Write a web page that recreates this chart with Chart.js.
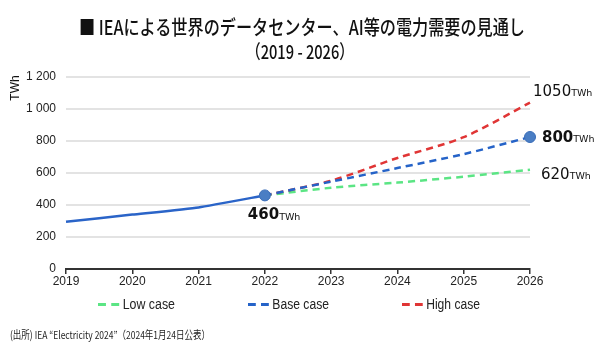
<!DOCTYPE html>
<html>
<head>
<meta charset="utf-8">
<script src="https://cdn.jsdelivr.net/npm/chart.js@4"></script>
<style>
  html, body { margin: 0; padding: 0; background: #fff; }
  #wrap { position: relative; width: 600px; height: 345px; overflow: hidden; font-family: "Noto Sans CJK JP", sans-serif; }
  #chartBox { position: absolute; left: 0; top: 0; width: 600px; height: 345px; }
  .fit { position: absolute; white-space: nowrap; transform-origin: 0 0; color: #111; line-height: 1; }
  #title1 { top: 17px; font-size: 20px; font-weight: 500; }
  #title2 { top: 41px; font-size: 19px; font-weight: 500; }
  #source { top: 329px; font-size: 11px; color: #222; }
  .leg { position: absolute; top: 297px; font-family: "Liberation Sans", Arial, sans-serif; font-size: 14px; color: #222; display: flex; align-items: center; }
  .dash { display: inline-block; flex: 0 0 auto; width: 9px; height: 3px; }
  .gap { display: inline-block; flex: 0 0 auto; width: 6px; height: 3px; }
  .gap2 { display: inline-block; flex: 0 0 auto; width: 4px; height: 3px; }
</style>
</head>
<body>
<div id="wrap">
  <div id="chartBox"><canvas id="chart"></canvas></div>
  <div class="fit" id="title1" data-left="79" data-width="446">■ IEAによる世界のデータセンター、AI等の電力需要の見通し</div>
  <div class="fit" id="title2" data-left="246" data-width="108">（2019 - 2026）</div>
  <div class="leg fit" data-left="98" data-width="77"><span class="dash" style="background:#5be584"></span><span class="gap"></span><span class="dash" style="background:#5be584"></span><span class="gap2"></span>Low case</div>
  <div class="leg fit" data-left="248" data-width="81"><span class="dash" style="background:#2563c8"></span><span class="gap"></span><span class="dash" style="background:#2563c8"></span><span class="gap2"></span>Base case</div>
  <div class="leg fit" data-left="402" data-width="78"><span class="dash" style="background:#e03535"></span><span class="gap"></span><span class="dash" style="background:#e03535"></span><span class="gap2"></span>High case</div>
  <div class="fit" id="source" data-left="10" data-width="200">(出所) IEA “Electricity 2024”（2024年1月24日公表）</div>
</div>
<script>
const years = ["2019", "2020", "2021", "2022", "2023", "2024", "2025", "2026"];
const actual = [295, 340, 385, 460, null, null, null, null];
const lowCase = [null, null, null, 460, 508, 540, 577, 620];
const baseCase = [null, null, null, 460, 546, 631, 718, 825];
const highCase = [null, null, null, 460, 552, 694, 824, 1040];
const yTicks = [0, 200, 400, 600, 800, 1000, 1200];

// end labels: [year, value, main text, bold]
const endLabels = [
  ["2022", 460, "460", true],
  ["2026", 825, "800", true],
  ["2026", 1050, "1050", false],
  ["2026", 620, "620", false],
];

// squeeze the condensed-looking texts to the reference widths
document.querySelectorAll(".fit").forEach(function (el) {
  const w = el.getBoundingClientRect().width;
  const target = Number(el.dataset.width);
  el.style.left = el.dataset.left + "px";
  el.style.transform = "scaleX(" + (target / w) + ")";
});

const labelPlugin = {
  id: "labels",
  afterDraw(chart) {
    const ctx = chart.ctx;
    const x = chart.scales.x;
    const y = chart.scales.y;
    ctx.save();
    ctx.fillStyle = "#111";
    ctx.textBaseline = "middle";

    // axis unit, top-left
    ctx.save();
    ctx.translate(16, 88);
    ctx.rotate(-Math.PI / 2);
    ctx.textAlign = "center";
    ctx.font = "12px 'Liberation Sans', Arial, sans-serif";
    ctx.fillText("TWh", 0, 0);
    ctx.restore();

    endLabels.forEach(function (l) {
      const px = x.getPixelForValue(years.indexOf(l[0]));
      const py = y.getPixelForValue(l[1]);
      let lx, ly;
      if (l[0] === "2022") { lx = px - 17; ly = py + 20; }
      else if (l[2] === "800") { lx = px + 12; ly = py + 1; }
      else if (l[2] === "1050") { lx = px + 3; ly = py - 9; }
      else { lx = px + 11; ly = py + 5; }
      ctx.textAlign = "left";
      ctx.font = (l[3] ? "bold " : "") + "15px 'DejaVu Sans', sans-serif";
      ctx.fillText(l[2], lx, ly);
      const w = ctx.measureText(l[2]).width;
      ctx.font = "9.5px 'DejaVu Sans', sans-serif";
      ctx.fillText("TWh", lx + w, ly + 2);
    });
    ctx.restore();
  },
};

const dashed = { borderWidth: 2.5, borderDash: [7, 5], pointRadius: 0, fill: false, tension: 0.3 };

new Chart(document.getElementById("chart"), {
  type: "line",
  data: {
    labels: years,
    datasets: [
      {
        label: "Actual",
        data: actual,
        borderColor: "#2a64c8",
        borderWidth: 2.5,
        tension: 0.15,
        pointRadius: [0, 0, 0, 5.5, 0, 0, 0, 0],
        pointBackgroundColor: "#4a7ec4",
        pointBorderColor: "#3a6db8",
        pointBorderWidth: 1,
      },
      Object.assign({ label: "Base case", data: baseCase, borderColor: "#2563c8",
        pointBackgroundColor: "#4a7ec4", pointBorderColor: "#3a6db8", pointBorderWidth: 1 }, dashed,
        { pointRadius: [0, 0, 0, 0, 0, 0, 0, 5.5] }),
      Object.assign({ label: "High case", data: highCase, borderColor: "#e03535" }, dashed),
      Object.assign({ label: "Low case", data: lowCase, borderColor: "#5be584" }, dashed),
    ],
  },
  options: {
    responsive: true,
    maintainAspectRatio: false,
    animation: false,
    spanGaps: false,
    layout: { padding: { top: 77, right: 70, left: 0, bottom: 0 } },
    plugins: {
      legend: { display: false },
      tooltip: { enabled: false },
    },
    scales: {
      x: {
        offset: false,
        afterFit(s) { s.height = 76; },
        border: { display: true, color: "#333", width: 2 },
        grid: { display: true, drawOnChartArea: false, drawTicks: true, tickLength: 5, color: "#333", lineWidth: 1.5 },
        ticks: { color: "#222", font: { family: "'Liberation Sans', Arial, sans-serif", size: 12 }, padding: 0, maxRotation: 0 },
      },
      y: {
        min: 0,
        max: 1200,
        afterFit(s) { s.width = 66; },
        afterBuildTicks(s) { s.ticks = yTicks.map(function (v) { return { value: v }; }); },
        border: { display: false },
        grid: { color: "#e3e3e3", lineWidth: 2, drawTicks: false },
        ticks: {
          color: "#222",
          padding: 10,
          font: { family: "'Liberation Sans', Arial, sans-serif", size: 12 },
          callback(v) { return String(v).replace(/\B(?=(\d{3})+(?!\d))/g, " "); },
        },
      },
    },
  },
  plugins: [labelPlugin],
});
</script>
</body>
</html>
